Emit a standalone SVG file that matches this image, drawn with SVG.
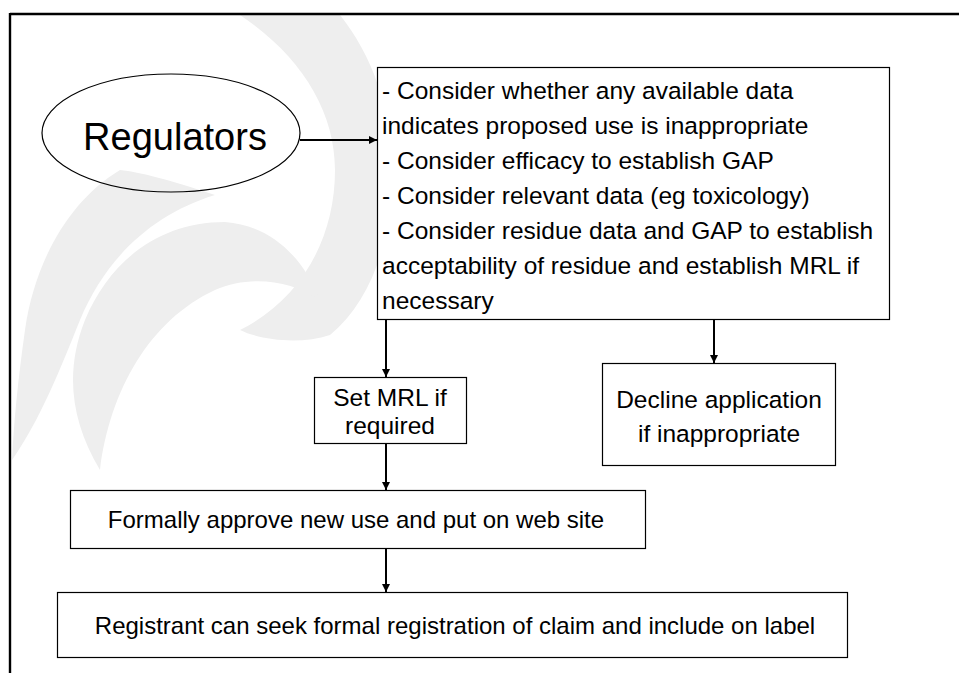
<svg xmlns="http://www.w3.org/2000/svg" width="959" height="673" viewBox="0 0 959 673">
  <style>
    .box { fill: #ffffff; stroke: #000000; stroke-width: 1.2; }
    .oval { fill: none; stroke: #000000; stroke-width: 1.2; }
    .txt { font-family: "Liberation Sans", Arial, sans-serif; font-size: 24.5px; fill: #000000; }
    .sm { font-size: 24px; }
    .mid { text-anchor: middle; }
    .wire { fill: none; stroke: #000000; stroke-width: 2; marker-end: url(#head); }
    .mark { fill: #eeeeee; }
  </style>
  <defs>
    <marker id="head" viewBox="0 0 10 10" refX="10" refY="5" markerWidth="4" markerHeight="4" orient="auto" markerUnits="strokeWidth">
      <path d="M0,0 L10,5 L0,10 Z" fill="#000000"/>
    </marker>
  </defs>

  <!-- page background and faint watermark swirl -->
  <rect x="0" y="0" width="959" height="673" fill="#ffffff"/>
  <g id="watermark">
    <path class="mark" d="M240,15 L340,15 C372,55 392,110 392,170 C392,240 372,300 330,335 C300,345 260,340 240,330 C300,300 335,240 335,170 C335,110 300,55 240,15 Z"/>
    <path class="mark" d="M120,170 C70,200 35,260 25,330 C18,380 14,420 12,460 L12,460 C40,420 60,370 80,320 C105,260 150,215 215,195 C170,180 140,172 120,170 Z"/>
    <path class="mark" d="M100,470 C110,390 150,320 215,290 C250,275 290,280 320,300 C300,250 265,225 225,222 C160,222 110,260 85,320 C65,370 70,420 100,470 Z"/>
  </g>

  <!-- slide frame -->
  <g id="frame">
    <line x1="10" y1="14" x2="959" y2="14" stroke="#000000" stroke-width="2.4"/>
    <line x1="10" y1="13" x2="10" y2="673" stroke="#000000" stroke-width="2.4"/>
  </g>

  <g id="connectors">
    <line class="wire" x1="300" y1="140" x2="377" y2="140"/>
    <line class="wire" x1="386" y1="320" x2="386" y2="377"/>
    <line class="wire" x1="714" y1="320" x2="714" y2="363"/>
    <line class="wire" x1="386" y1="444" x2="386" y2="490"/>
    <line class="wire" x1="386" y1="549" x2="386" y2="592"/>
  </g>

  <g id="regulators">
    <ellipse class="oval" cx="171" cy="133" rx="129" ry="59"/>
    <text class="txt mid" x="175" y="150" style="font-size:38px">Regulators</text>
  </g>

  <g id="assessment">
    <rect class="box" x="377.5" y="67.5" width="512" height="252"/>
    <text class="txt" x="382" y="99">- Consider whether any available data</text>
    <text class="txt" x="382" y="134">indicates proposed use is inappropriate</text>
    <text class="txt" x="382" y="169">- Consider efficacy to establish GAP</text>
    <text class="txt" x="382" y="204">- Consider relevant data (eg toxicology)</text>
    <text class="txt" x="382" y="239">- Consider residue data and GAP to establish</text>
    <text class="txt" x="382" y="274">acceptability of residue and establish MRL if</text>
    <text class="txt" x="382" y="309">necessary</text>
  </g>

  <g id="set-mrl">
    <rect class="box" x="314.5" y="377.5" width="152" height="66"/>
    <text class="txt mid" x="390" y="406">Set MRL if</text>
    <text class="txt mid" x="390" y="434">required</text>
  </g>

  <g id="decline">
    <rect class="box" x="602.5" y="363.5" width="233" height="102"/>
    <text class="txt mid" x="719" y="408">Decline application</text>
    <text class="txt mid" x="719" y="442">if inappropriate</text>
  </g>

  <g id="approve">
    <rect class="box" x="70.5" y="490.5" width="575" height="58"/>
    <text class="txt sm mid" x="356" y="528">Formally approve new use and put on web site</text>
  </g>

  <g id="registrant">
    <rect class="box" x="57.5" y="592.5" width="790" height="65"/>
    <text class="txt sm mid" x="455" y="634">Registrant can seek formal registration of claim and include on label</text>
  </g>
</svg>
